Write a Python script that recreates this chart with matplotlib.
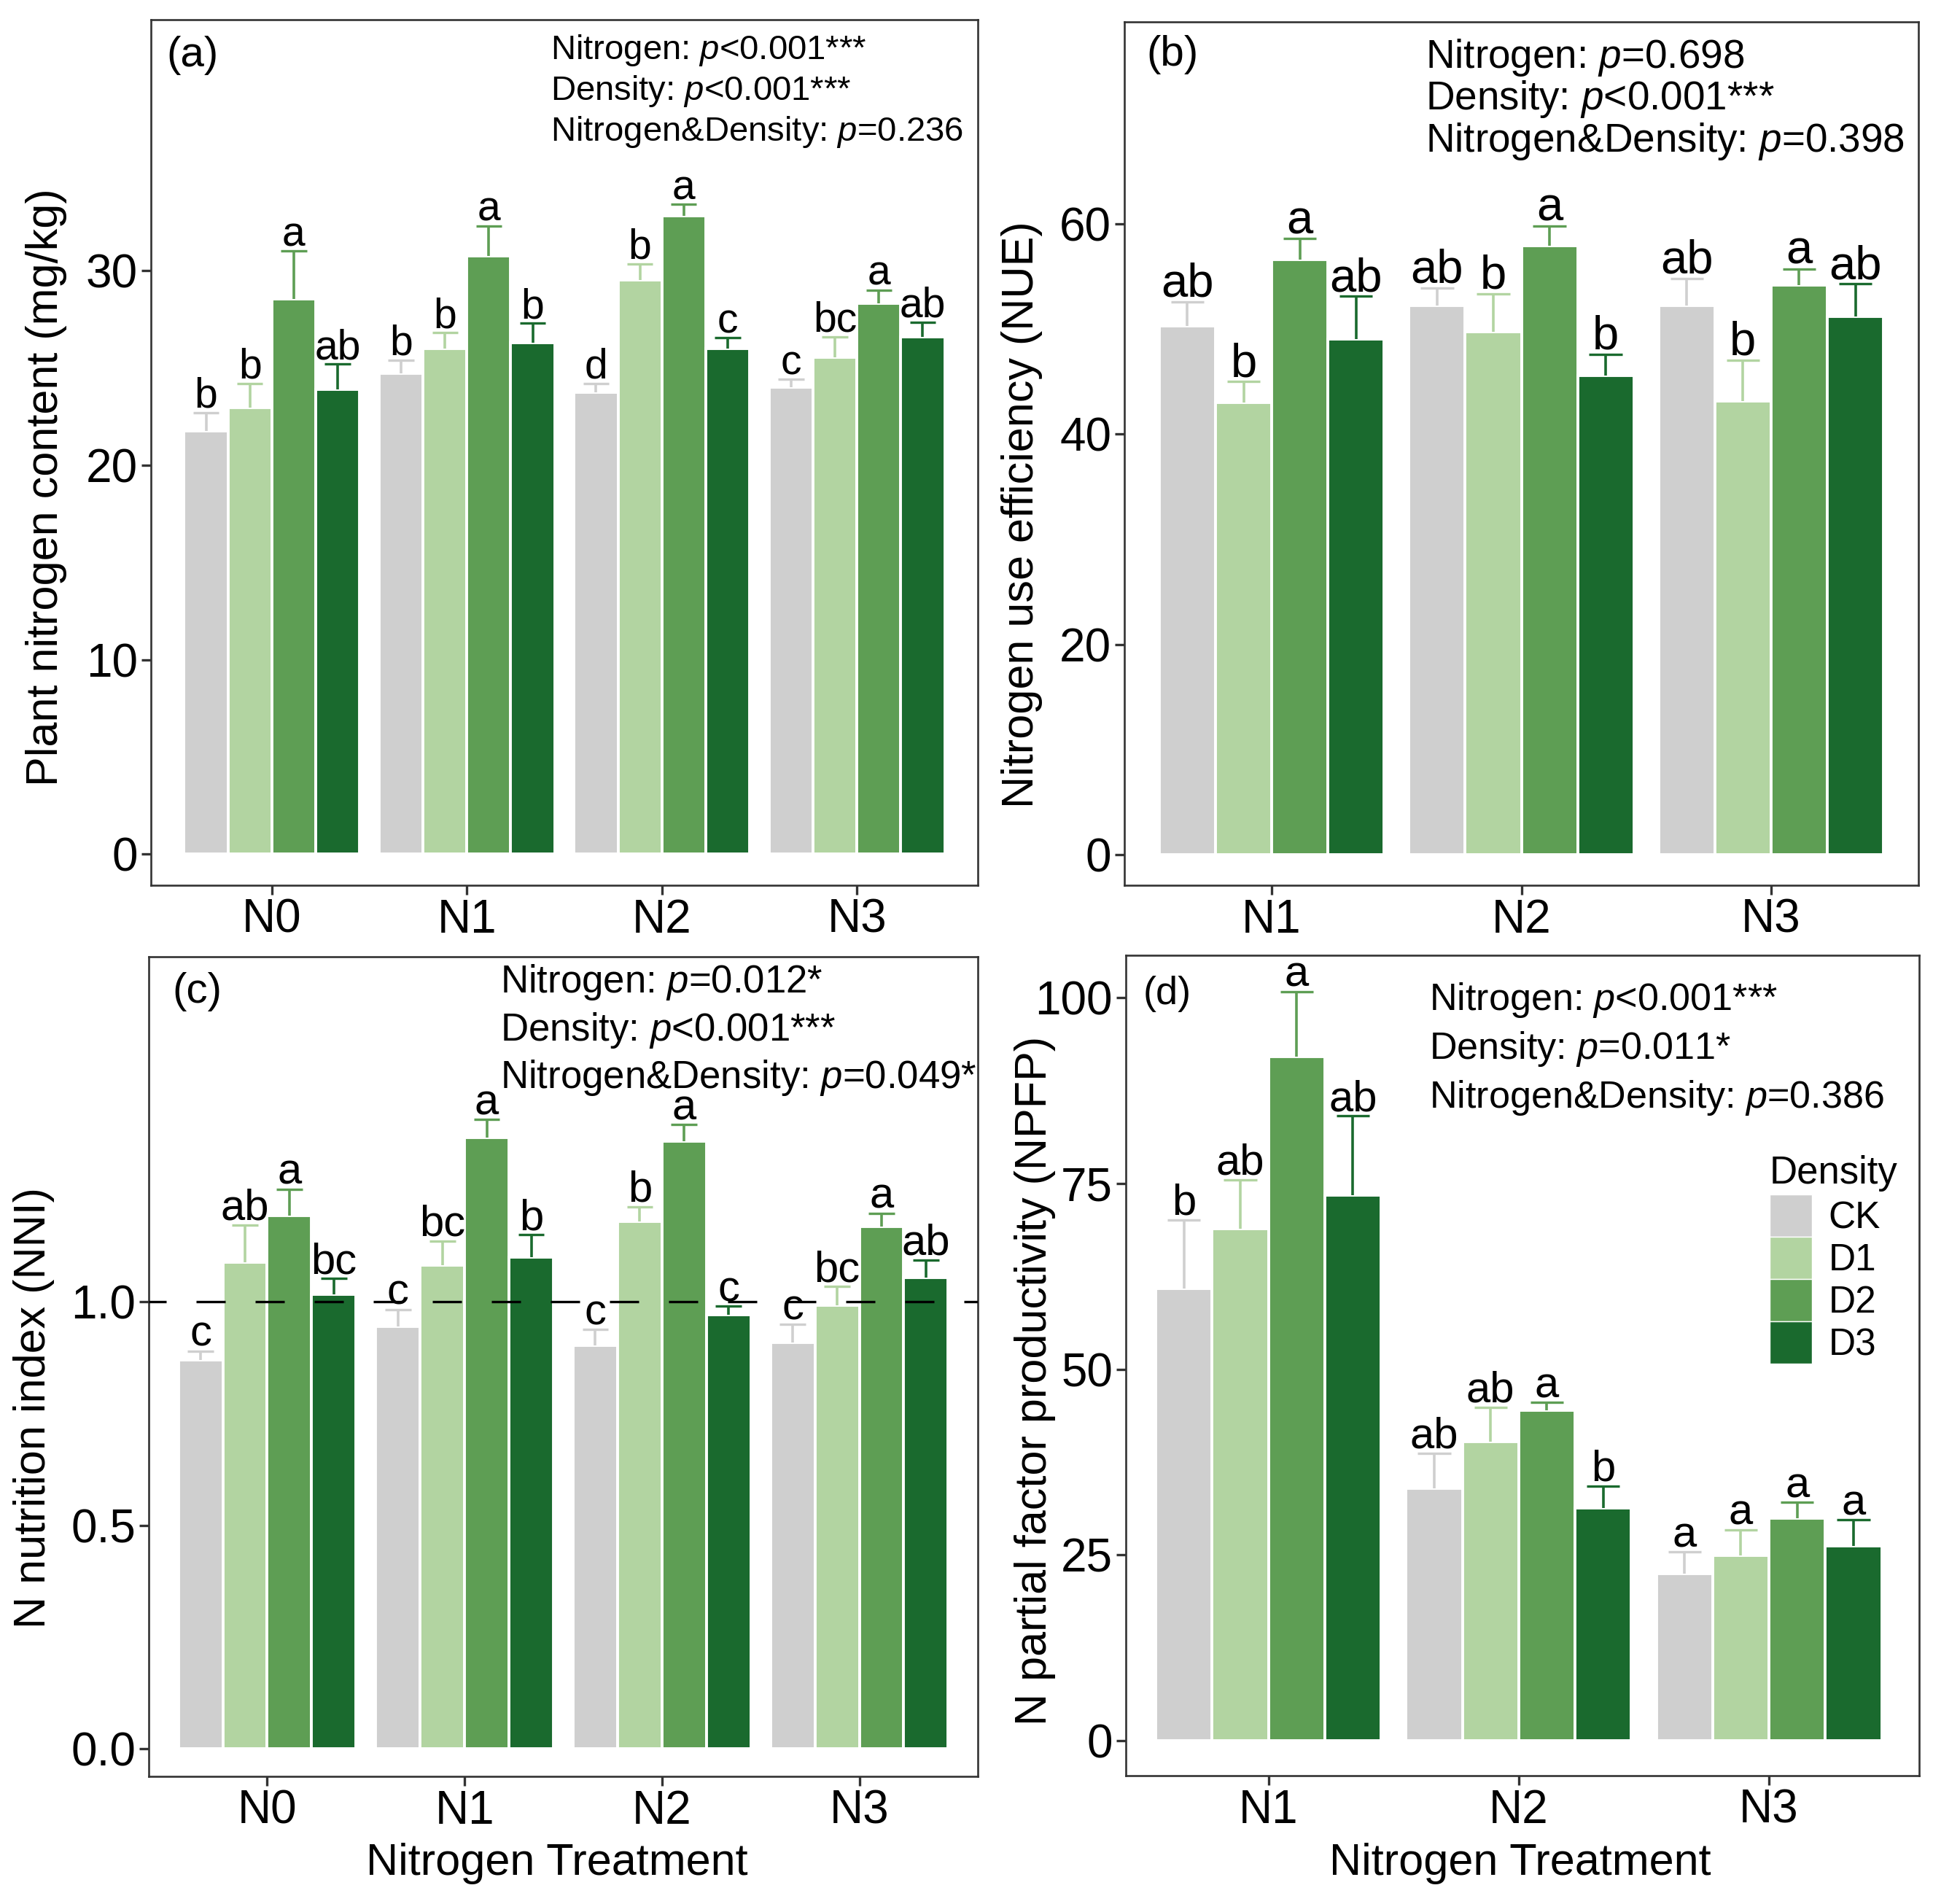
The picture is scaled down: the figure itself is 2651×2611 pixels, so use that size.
import numpy as np
import matplotlib
matplotlib.use('Agg')
import matplotlib.pyplot as plt
from matplotlib.patches import Patch

plt.rcParams['font.family'] = ['Liberation Sans', 'DejaVu Sans']
plt.rcParams['mathtext.fontset'] = 'custom'
plt.rcParams['mathtext.rm'] = 'Liberation Sans'
plt.rcParams['mathtext.it'] = 'Liberation Sans:italic'

# DATOS ---------------------
densidad = ['CK', 'D1', 'D2', 'D3']
colores = ['#cfcfcf', '#b2d4a1', '#5e9e54', '#1a6a2e']

trat_a = ['N0', 'N1', 'N2', 'N3']
pnc = [[21.75, 22.95, 28.55, 23.9],
       [24.7, 26.0, 30.75, 26.3],
       [23.75, 29.5, 32.8, 26.0],
       [24.0, 25.55, 28.3, 26.6]]
pnc_se = [[0.95, 1.25, 2.45, 1.3],
          [0.7, 0.8, 1.55, 1.0],
          [0.45, 0.85, 0.6, 0.55],
          [0.4, 1.05, 0.7, 0.75]]
pnc_let = [['b', 'b', 'a', 'ab'],
           ['b', 'b', 'a', 'b'],
           ['d', 'b', 'a', 'c'],
           ['c', 'bc', 'a', 'ab']]

trat_b = ['N1', 'N2', 'N3']
nue = [[50.3, 43.0, 56.6, 49.05],
       [52.2, 49.7, 57.9, 45.6],
       [52.2, 43.15, 54.15, 51.2]]
nue_se = [[2.3, 2.0, 2.0, 4.05],
          [1.7, 3.65, 1.9, 2.0],
          [2.6, 3.9, 1.55, 3.1]]
nue_let = [['ab', 'b', 'a', 'ab'],
           ['ab', 'b', 'a', 'b'],
           ['ab', 'b', 'a', 'ab']]

trat_c = ['N0', 'N1', 'N2', 'N3']
nni = [[0.869, 1.088, 1.193, 1.017],
       [0.945, 1.081, 1.367, 1.099],
       [0.902, 1.179, 1.359, 0.971],
       [0.909, 0.992, 1.168, 1.054]]
nni_se = [[0.021, 0.084, 0.059, 0.035],
          [0.038, 0.055, 0.041, 0.051],
          [0.036, 0.034, 0.037, 0.019],
          [0.040, 0.042, 0.030, 0.040]]
nni_let = [['c', 'ab', 'a', 'bc'],
           ['c', 'bc', 'a', 'b'],
           ['c', 'b', 'a', 'c'],
           ['c', 'bc', 'a', 'ab']]

trat_d = ['N1', 'N2', 'N3']
npfp = [[60.9, 68.9, 92.1, 73.4],
        [34.0, 40.2, 44.5, 31.3],
        [22.5, 24.9, 29.9, 26.2]]
npfp_se = [[9.2, 6.6, 8.7, 10.7],
           [4.7, 4.7, 1.0, 3.0],
           [2.9, 3.5, 2.2, 3.5]]
npfp_let = [['b', 'ab', 'a', 'ab'],
            ['ab', 'ab', 'a', 'b'],
            ['a', 'a', 'a', 'a']]

anova_a = ['Nitrogen: $p$<0.001***', 'Density: $p$<0.001***', 'Nitrogen&Density: $p$=0.236']
anova_b = ['Nitrogen: $p$=0.698', 'Density: $p$<0.001***', 'Nitrogen&Density: $p$=0.398']
anova_c = ['Nitrogen: $p$=0.012*', 'Density: $p$<0.001***', 'Nitrogen&Density: $p$=0.049*']
anova_d = ['Nitrogen: $p$<0.001***', 'Density: $p$=0.011*', 'Nitrogen&Density: $p$=0.386']

# FIGURA ---------------------
W, H = 2651, 2611
fig = plt.figure(figsize=(W/100, H/100), dpi=100)
gris = '#333333'


def caja(l, t, r, b):
    return fig.add_axes([l/W, 1-b/H, (r-l)/W, (b-t)/H])


def ftexto(x, y, s, **kw):
    fig.text(x/W, 1-y/H, s, **kw)


def barras(ax, grupos, medias, se, letras, fs_letra):
    x = np.arange(1, len(grupos)+1)
    ancho = 0.225
    for j in range(4):
        pos = x + (j-1.5)*ancho
        m = np.array([fila[j] for fila in medias])
        e = np.array([fila[j] for fila in se])
        ax.bar(pos, m, width=ancho, color=colores[j], edgecolor='white',
               linewidth=2.8, zorder=2)
        ax.vlines(pos, m, m+e, color=colores[j], lw=2.6, zorder=3)
        ax.hlines(m+e, pos-0.066, pos+0.066, color=colores[j], lw=2.4, zorder=3)
        for k in range(len(grupos)):
            ax.annotate(letras[k][j], (pos[k], m[k]+e[k]), xytext=(0, 5),
                        textcoords='offset points', ha='center', va='baseline',
                        fontsize=fs_letra, zorder=5)
    ax.set_xticks(x)
    ax.set_xticklabels(grupos)
    for s in ax.spines.values():
        s.set_color(gris)
        s.set_linewidth(1.9)
    ax.tick_params(length=9.4, width=2.4, color=gris, labelsize=46, pad=3.5)


def anova(x, y0, paso, lineas, fs):
    for i, t in enumerate(lineas):
        ftexto(x, y0 + i*paso, t, fontsize=fs, ha='left', va='baseline')


# (a)
ax = caja(207, 27, 1341, 1214)
barras(ax, trat_a, pnc, pnc_se, pnc_let, 41)
ax.set_xlim(0.38, 4.62)
ax.set_ylim(-1.6, 42.9)
ax.set_yticks([0, 10, 20, 30])
ftexto(64, 668, 'Plant nitrogen content (mg/kg)', fontsize=44, rotation=90, ha='center', va='center')
ftexto(228, 91, '(a)', fontsize=42, ha='left', va='baseline')
anova(755, 81, 56, anova_a, 34)

# (b)
ax = caja(1542, 30, 2631, 1214)
barras(ax, trat_b, nue, nue_se, nue_let, 47)
ax.set_xlim(0.41, 3.59)
ax.set_ylim(-2.9, 79.2)
ax.set_yticks([0, 20, 40, 60])
ftexto(1401, 706, 'Nitrogen use efficiency (NUE)', fontsize=44, rotation=90, ha='center', va='center')
ftexto(1572, 90, '(b)', fontsize=42, ha='left', va='baseline')
anova(1955, 93, 57.5, anova_b, 39.5)

# (c)
ax = caja(204, 1312, 1341, 2436)
barras(ax, trat_c, nni, nni_se, nni_let, 43)
ax.axhline(1.0, color='black', lw=2.4, linestyle=(4.8, (12, 12.3)), zorder=4)
ax.set_xlim(0.40, 4.60)
ax.set_ylim(-0.062, 1.772)
ax.set_yticks([0.0, 0.5, 1.0])
ax.set_yticklabels(['0.0', '0.5', '1.0'])
ftexto(47, 1931, 'N nutrition index (NNI)', fontsize=44, rotation=90, ha='center', va='center')
ftexto(764, 2555, 'Nitrogen Treatment', fontsize=44, ha='center', va='center')
ftexto(236, 1375, '(c)', fontsize=42, ha='left', va='baseline')
anova(686, 1361, 65.5, anova_c, 38)

# (d)
ax = caja(1544, 1310, 2632, 2435)
barras(ax, trat_d, npfp, npfp_se, npfp_let, 43)
ax.set_xlim(0.43, 3.60)
ax.set_ylim(-4.7, 105.7)
ax.set_yticks([0, 25, 50, 75, 100])
ftexto(1420, 1893, 'N partial factor productivity (NPFP)', fontsize=44, rotation=90, ha='center', va='center')
ftexto(2085, 2556, 'Nitrogen Treatment', fontsize=44, ha='center', va='center')
ftexto(1568, 1377, '(d)', fontsize=39, ha='left', va='baseline')
anova(1960, 1385, 67, anova_d, 37.5)

# leyenda
ftexto(2427, 1623, 'Density', fontsize=38, ha='left', va='baseline')
manijas = [Patch(facecolor=c, edgecolor='white', linewidth=1) for c in colores]
leg = ax.legend(manijas, densidad, loc='upper left',
                bbox_to_anchor=(2427/W, 1-1638/H), bbox_transform=fig.transFigure,
                frameon=False, fontsize=37, borderpad=0,
                borderaxespad=0, labelspacing=0, handlelength=1.12,
                handleheight=1.36, handletextpad=0.45)

fig.savefig('out.png', dpi=100)
